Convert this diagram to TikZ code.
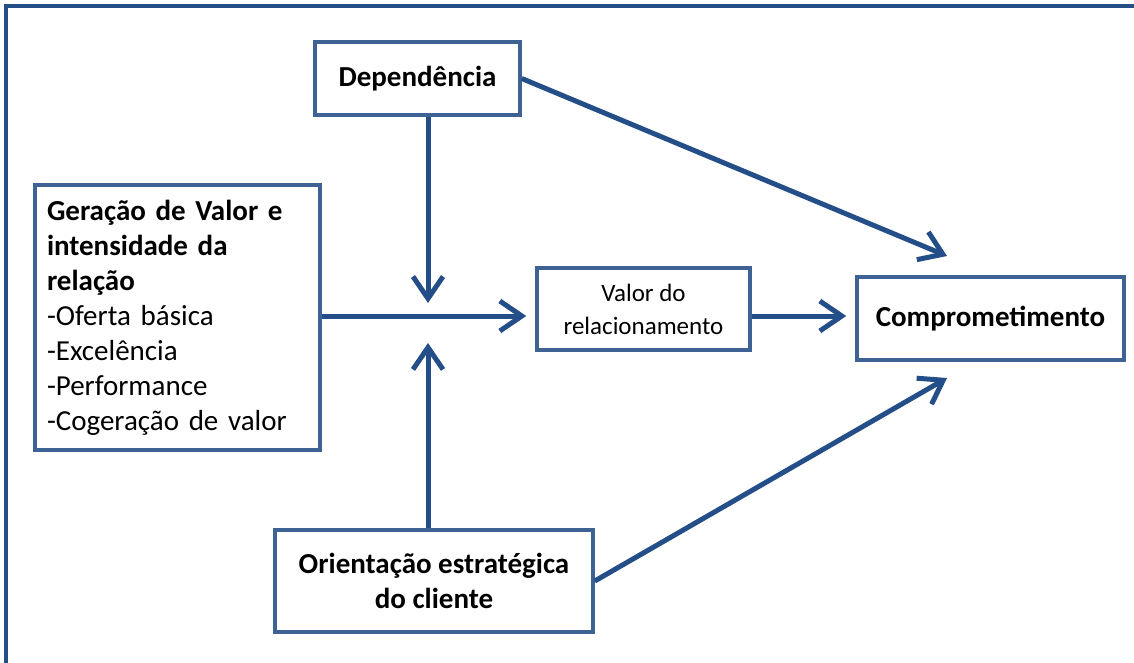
\documentclass[tikz,border=0pt]{standalone}
\usepackage{fontspec}
\setmainfont{Carlito}
\usetikzlibrary{arrows.meta, calc}

\definecolor{boxblue}{RGB}{62,98,148}
\definecolor{arrowblue}{RGB}{35,78,136}

\begin{document}
\begin{tikzpicture}[
   x=1pt, y=-1pt,
   box/.style={draw=boxblue, line width=3.5pt, fill=white, inner sep=0pt,
      font=\fontsize{29}{35}\selectfont},            % plain concept boxes
   boldbox/.style={box, font=\fontsize{29}{35}\selectfont\bfseries},
   flow/.style={-{Straight Barb[length=22pt,width=30pt]}, line width=5pt,
      draw=arrowblue},                                 % causal arrows
   frame/.style={draw=arrowblue, line width=4pt}
]
\useasboundingbox (0,0) rectangle (1134,663);
\clip (0,0) rectangle (1134,663);

% --- outer frame (only top and left edges are in view)
\coordinate (frameBL) at (6,680);
\coordinate (frameTL) at (6,6);
\coordinate (frameTR) at (1150,6);
\draw[frame] (frameBL) -- (frameTL) -- (frameTR);

% --- concept boxes
\node[boldbox, minimum width=205pt, minimum height=73pt] (dep) at (417.5,78.5) {Dependência};

\node[box, align=left, text width=261pt, inner xsep=12pt, minimum height=265pt] (gen) at (177.5,317.5)
   {\textbf{Geração de Valor e}\\ \textbf{intensidade da}\\ \textbf{relação}\\
    -Oferta básica\\ -Excelência\\ -Performance\\ -Cogeração de valor};

\node[box, align=center, minimum width=213pt, minimum height=82pt,
   font=\fontsize{25}{33}\selectfont] (val) at (643.5,309) {Valor do\\ relacionamento};

\node[boldbox, minimum width=267pt, minimum height=83pt] (com) at (990.5,318.5) {Comprometimento};

\node[boldbox, align=center, minimum width=318pt, minimum height=102pt] (ori) at (434,581)
   {Orientação estratégica\\ do cliente};

% --- arrow end points around the moderation hub
\coordinate (hub) at (428,316);
\coordinate (hubN) at (428,303);   % tip of arrow from Dependência
\coordinate (hubS) at (428,343);   % tip of arrow from Orientação
\coordinate (comNE) at (947,256);
\coordinate (comSE) at (947,378);

% --- arrows
\draw[flow] (dep.south -| hub) -- (hubN);
\draw[flow] (ori.north -| hub) -- (hubS);
\draw[flow, shorten >=9pt] (gen.east |- hub) -- (val.west |- hub);
\draw[flow, shorten >=9pt] (val.east |- hub) -- (com.west |- hub);
\draw[flow] (dep.east) -- (comNE);
\draw[flow] (ori.east) -- (comSE);

\end{tikzpicture}
\end{document}
